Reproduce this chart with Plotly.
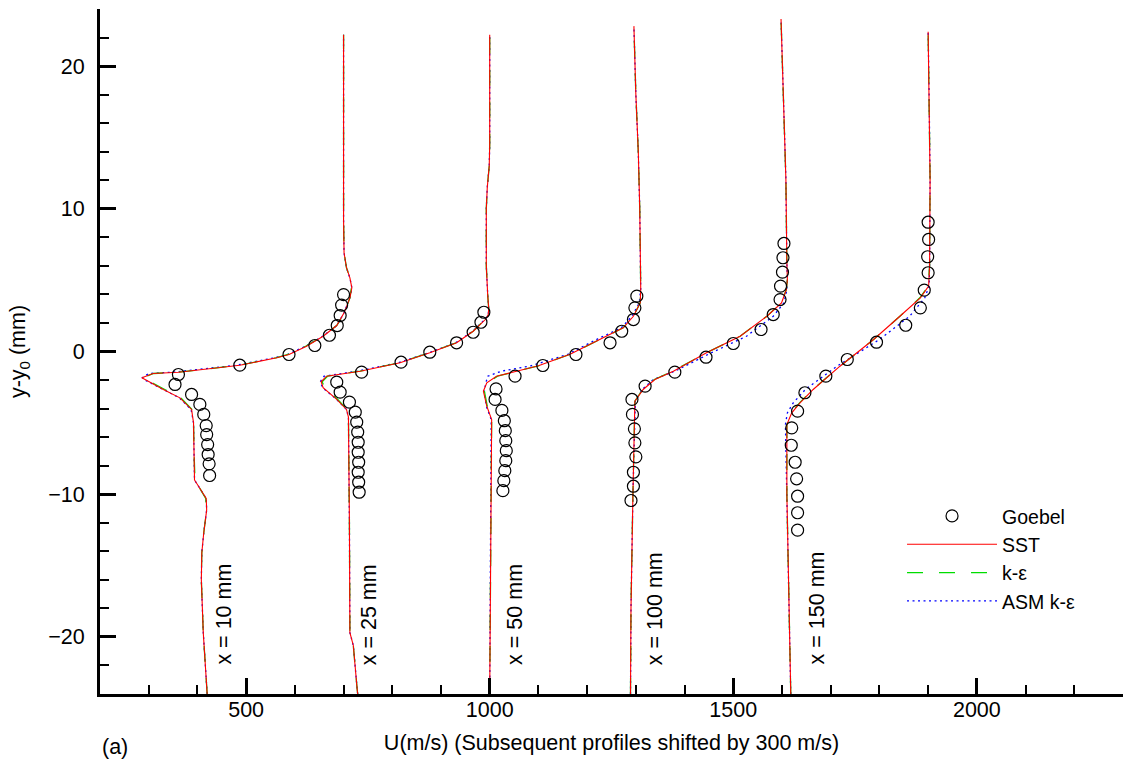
import plotly.graph_objects as go

# ---------------- data ----------------
stations = ["x = 10 mm", "x = 25 mm", "x = 50 mm", "x = 100 mm", "x = 150 mm"]
station_label_u = [455, 752, 1053, 1341, 1672]
station_label_y = -22.1

# Goebel experiment: U (shifted, m/s) and y-y0 (mm)
goebel_u_10 = [361, 354, 388, 405, 413, 418, 419, 421, 422, 424, 425, 487, 588, 641, 671, 687, 693, 696, 700]
goebel_y_10 = [-1.61, -2.31, -3.01, -3.71, -4.41, -5.19, -5.82, -6.52, -7.22, -7.87, -8.69, -0.96, -0.21, 0.42, 1.14, 1.82, 2.52, 3.25, 3.99]

goebel_u_25 = [686, 693, 712, 724, 727, 729, 730, 730, 731, 730, 731, 732, 737, 818, 877, 932, 966, 982, 988]
goebel_y_25 = [-2.15, -2.85, -3.55, -4.25, -4.95, -5.65, -6.36, -7.06, -7.76, -8.46, -9.16, -9.86, -1.45, -0.75, -0.05, 0.61, 1.35, 2.05, 2.75]

goebel_u_50 = [1013, 1011, 1025, 1030, 1032, 1033, 1034, 1033, 1031, 1029, 1027, 1052, 1109, 1177, 1247, 1271, 1295, 1298, 1302]
goebel_y_50 = [-2.62, -3.36, -4.13, -4.85, -5.55, -6.25, -6.95, -7.65, -8.35, -9.05, -9.75, -1.73, -0.98, -0.21, 0.61, 1.42, 2.24, 3.06, 3.88]

goebel_u_100 = [1292, 1293, 1297, 1298, 1300, 1295, 1295, 1290, 1319, 1380, 1444, 1500, 1557, 1582, 1596, 1597, 1601, 1602, 1604]
goebel_y_100 = [-3.36, -4.41, -5.42, -6.40, -7.38, -8.46, -9.44, -10.44, -2.43, -1.45, -0.40, 0.56, 1.54, 2.59, 3.64, 4.58, 5.56, 6.57, 7.57]

goebel_u_150 = [1620, 1619, 1627, 1630, 1632, 1632, 1632, 1632, 1647, 1690, 1734, 1794, 1854, 1884, 1892, 1900, 1899, 1901, 1900]
goebel_y_150 = [-5.35, -6.57, -7.76, -8.92, -10.14, -11.30, -12.52, -4.18, -2.89, -1.73, -0.56, 0.65, 1.84, 3.06, 4.30, 5.52, 6.64, 7.85, 9.06]

# Computed profiles: y-y0 (mm) and U (m/s) for each model
y_10 = [-24, -19.7, -16.0, -14.1, -12.7, -11.1, -10.3, -9.0, -7.0, -5.0, -4.06, -3.25, -2.66, -2.0, -1.84, -1.54,
        -1.45, -0.96, -0.44, -0.21, 0.37, 1.07, 1.82, 2.71, 3.76, 4.46, 5.16, 5.87, 6.92, 9.25, 15.0, 22.2]
sst_10 = [420, 412, 408, 409, 413, 419, 418, 394, 393, 392, 388, 364, 330, 292, 286, 309,
          361, 487, 563, 588, 624, 658, 686, 701, 713, 717, 713, 706, 701, 700, 700, 700]
ke_10 = [420, 412, 408, 409, 413, 419, 417, 395, 393, 392, 389, 366, 333, 296, 288, 310,
         362, 487, 561, 586, 622, 657, 686, 702, 713, 716, 713, 706, 701, 700, 700, 700]
asm_10 = [420, 412, 408, 409, 413, 419, 418, 394, 393, 392, 387, 363, 330, 292, 287, 300,
          350, 480, 558, 585, 622, 657, 686, 701, 713, 717, 713, 706, 701, 700, 700, 700]

y_25 = [-24, -23.7, -20.6, -19.7, -12.0, -6.0, -4.6, -4.06, -3.36, -2.54, -2.12, -1.73, -1.38, -0.79,
        -0.09, 0.61, 1.42, 2.24, 2.59, 3.0, 3.88, 6.0, 10.0, 11.5, 13.0, 14.5, 22.2]
sst_25 = [729, 728, 720, 713, 712, 711, 710, 706, 686, 658, 654, 665, 734, 816,
          877, 932, 966, 991, 997, 998, 996, 993, 993, 995, 999, 1000, 1000]
ke_25 = [729, 728, 720, 713, 712, 711, 710, 707, 688, 661, 656, 667, 734, 815,
         876, 931, 966, 990, 996, 998, 996, 993, 993, 995, 999, 1000, 1000]
asm_25 = [729, 728, 720, 713, 712, 711, 710, 706, 686, 657, 652, 660, 728, 812,
          875, 930, 965, 990, 997, 998, 996, 993, 993, 995, 999, 1000, 1000]

y_50 = [-24, -17.4, -10.0, -6.0, -4.77, -3.83, -2.78, -2.2, -1.73, -1.38, -1.0, -0.2, 0.89, 1.66,
        2.47, 3.41, 4.4, 10.0, 14.0, 18.0, 22.8]
sst_50 = [1000, 1001, 1002, 1003, 1004, 994, 987, 994, 1014, 1055, 1100, 1165, 1227, 1274,
          1295, 1309, 1310, 1308, 1305, 1300, 1296]
ke_50 = [1000, 1001, 1002, 1003, 1004, 995, 989, 996, 1016, 1056, 1100, 1165, 1227, 1274,
         1295, 1309, 1310, 1308, 1305, 1300, 1296]
asm_50 = [1000, 1001, 1002, 1003, 1003, 993, 989, 992, 996, 1024, 1085, 1160, 1222, 1270,
          1292, 1307, 1310, 1308, 1305, 1300, 1296]

y_100 = [-24, -18, -10, -5, -3.48, -2.66, -1.96, -1.38, -0.09, 1.07, 2.47, 3.41, 4.34, 5.05, 6.22, 12.05, 18, 23.3]
sst_100 = [1289, 1290, 1294, 1297, 1298, 1315, 1339, 1377, 1445, 1514, 1569, 1599, 1609, 1611, 1610, 1608, 1603, 1598]
ke_100 = [1289, 1290, 1294, 1297, 1298, 1314, 1338, 1376, 1445, 1514, 1569, 1598, 1609, 1611, 1610, 1608, 1603, 1598]
asm_100 = [1289, 1290, 1294, 1297, 1299, 1313, 1336, 1380, 1455, 1527, 1582, 1604, 1610, 1611, 1610, 1608, 1603, 1598]

y_150 = [-24, -17.4, -10.0, -5.12, -4.3, -3.6, -2.66, -1.03, 0.84, 2.47, 3.76, 4.58, 6.0, 12.05, 18.0, 22.4]
sst_150 = [1618, 1614, 1610, 1610, 1620, 1637, 1664, 1719, 1788, 1842, 1884, 1901, 1903, 1904, 1902, 1900]
ke_150 = [1618, 1614, 1610, 1610, 1619, 1636, 1663, 1719, 1788, 1842, 1883, 1900, 1903, 1904, 1902, 1900]
asm_150 = [1618, 1614, 1610, 1607, 1611, 1623, 1648, 1713, 1800, 1862, 1893, 1902, 1903, 1904, 1902, 1900]

x_ticks = [500, 1000, 1500, 2000]
y_ticks = [-20, -10, 0, 10, 20]

# ---------------- figure ----------------
FONT = "Liberation Sans, Arial, Helvetica, sans-serif"
FS = 21.5
FS_LEG = 19.5

profiles = [
    (y_10, sst_10, ke_10, asm_10, goebel_u_10, goebel_y_10),
    (y_25, sst_25, ke_25, asm_25, goebel_u_25, goebel_y_25),
    (y_50, sst_50, ke_50, asm_50, goebel_u_50, goebel_y_50),
    (y_100, sst_100, ke_100, asm_100, goebel_u_100, goebel_y_100),
    (y_150, sst_150, ke_150, asm_150, goebel_u_150, goebel_y_150),
]

fig = go.Figure()
for i, (yy, sst, ke, asm, gu, gy) in enumerate(profiles):
    first = i == 0
    fig.add_trace(go.Scatter(x=asm, y=yy, mode="lines", name="ASM k-\u03b5",
                             line=dict(color="#0000ff", width=1.3, dash="2px,3.5px"),
                             legendgroup="asm", showlegend=first, legendrank=4))
    fig.add_trace(go.Scatter(x=ke, y=yy, mode="lines", name="k-\u03b5",
                             line=dict(color="#00dd00", width=1.3, dash="16px,16px"),
                             legendgroup="ke", showlegend=first, legendrank=3))
    fig.add_trace(go.Scatter(x=sst, y=yy, mode="lines", name="SST",
                             line=dict(color="#ff0000", width=1.1),
                             legendgroup="sst", showlegend=first, legendrank=2))
    fig.add_trace(go.Scatter(x=gu, y=gy, mode="markers", name="Goebel",
                             marker=dict(symbol="circle-open", size=12, color="black",
                                         line=dict(width=1.2, color="black")),
                             legendgroup="goebel", showlegend=first, legendrank=1))

for lab, xu in zip(stations, station_label_u):
    fig.add_annotation(x=xu, y=station_label_y, xref="x", yref="y", text=lab,
                       textangle=-90, showarrow=False, xanchor="center", yanchor="bottom",
                       font=dict(family=FONT, size=FS, color="black"))

fig.add_annotation(x=0, y=-0.078, xref="paper", yref="paper", text="(a)", showarrow=False,
                   xanchor="left", yanchor="middle", font=dict(family=FONT, size=FS, color="black"))

axis_common = dict(
    showline=True, linewidth=3, linecolor="black", showgrid=False, zeroline=False,
    ticks="inside", ticklen=16, tickwidth=3, tickcolor="black",
    tickfont=dict(family=FONT, size=FS, color="black"),
)

fig.update_layout(
    width=1123, height=769,
    margin=dict(l=100, r=0, t=9, b=75),
    paper_bgcolor="white", plot_bgcolor="white",
    font=dict(family=FONT, size=FS, color="black"),
    xaxis=dict(range=[200, 2300], tickvals=x_ticks, ticklabelstandoff=-6,
               minor=dict(dtick=100, tick0=0, ticks="inside", ticklen=9, tickwidth=1.5, tickcolor="black"),
               title=dict(text="U(m/s) (Subsequent profiles shifted by 300 m/s)", standoff=15,
                          font=dict(family=FONT, size=FS, color="black")),
               **axis_common),
    yaxis=dict(range=[-24, 24], tickvals=y_ticks, ticklabelstandoff=8,
               minor=dict(dtick=2, tick0=0, ticks="inside", ticklen=9, tickwidth=1.5, tickcolor="black"),
               title=dict(text="y-y<sub>0</sub> (mm)", standoff=17,
                          font=dict(family=FONT, size=FS, color="black")),
               **axis_common),
    legend=dict(x=0.784, y=0.288, xanchor="left", yanchor="top", bgcolor="rgba(0,0,0,0)",
                font=dict(family=FONT, size=FS_LEG, color="black"), itemwidth=90, tracegroupgap=0),
    showlegend=True,
)

fig.write_html("out.html")
